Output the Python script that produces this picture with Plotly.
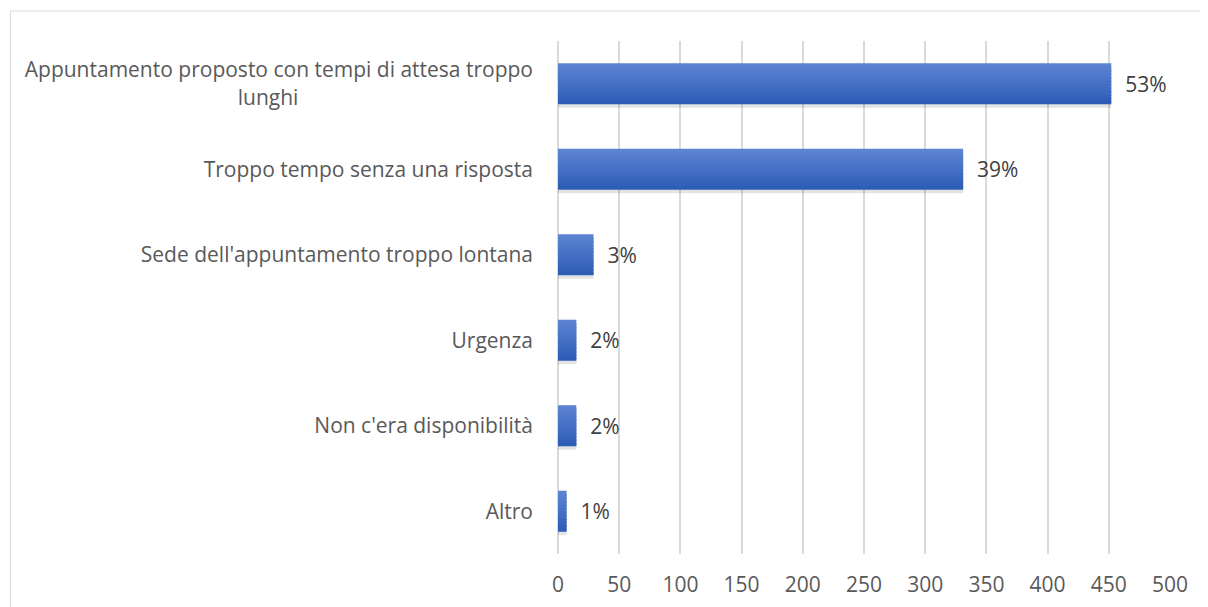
import plotly.graph_objects as go

categories = [
    "Appuntamento proposto con tempi di attesa troppo<br>lunghi" + "\u00a0" * 43,
    "Troppo tempo senza una risposta",
    "Sede dell'appuntamento troppo lontana",
    "Urgenza",
    "Non c'era disponibilità",
    "Altro",
]
values = [452, 331, 29, 15, 15, 7]
pct_labels = ["53%", "39%", "3%", "2%", "2%", "1%"]
x_ticks = [0, 50, 100, 150, 200, 250, 300, 350, 400, 450, 500]

W, H = 1208, 607
L, R, T, B = 549.5, 45.5, 33, 61
FONT = "Open Sans, Lato, sans-serif"
FS = 21
BAR_W = 0.48

fig = go.Figure()

# soft shadow under bars
fig.add_trace(go.Bar(
    y=categories, x=values, orientation="h",
    marker=dict(color="rgba(0,0,0,0.11)", line=dict(width=0)),
    width=BAR_W, offset=-BAR_W / 2 + 0.04, hoverinfo="skip",
))

# vertical gradient fill built from thin strips
top_rgb = (0x5C, 0x83, 0xD2)
bot_rgb = (0x2E, 0x5D, 0xB6)
N = 12
step = BAR_W / N
for i in range(N):
    f = i / (N - 1)
    c = tuple(round(a + (b - a) * f) for a, b in zip(top_rgb, bot_rgb))
    fig.add_trace(go.Bar(
        y=categories, x=values, orientation="h",
        marker=dict(color="rgb(%d,%d,%d)" % c, line=dict(width=0)),
        width=step * (1.6 if i < N - 1 else 1.0),
        offset=-BAR_W / 2 + i * step, hoverinfo="skip",
    ))

# labels
fig.add_trace(go.Bar(
    y=categories, x=values, orientation="h",
    marker=dict(color="rgba(0,0,0,0)", line=dict(width=0)),
    width=BAR_W,
    text=["\u00a0\u00a0" + p for p in pct_labels],
    textposition="outside",
    textfont=dict(family=FONT, size=FS, color="#404040"),
    cliponaxis=False,
))

fig.update_layout(
    width=W, height=H,
    margin=dict(l=L, r=R, t=T, b=B, autoexpand=False),
    paper_bgcolor="white", plot_bgcolor="white",
    showlegend=False, barmode="overlay",
    font=dict(family=FONT, size=FS, color="#595959"),
    xaxis=dict(
        range=[0, 500], tickvals=x_ticks, showgrid=True,
        gridcolor="#D9D9D9", gridwidth=1.5, zeroline=True,
        zerolinecolor="#D9D9D9", zerolinewidth=1.5,
        ticks="", ticklabelstandoff=16,
        tickfont=dict(family=FONT, size=FS, color="#595959"),
    ),
    yaxis=dict(
        autorange="reversed", showgrid=False, zeroline=False,
        ticks="", ticklabelstandoff=24,
        tickfont=dict(family=FONT, size=FS, color="#595959"),
    ),
    shapes=[dict(
        type="rect", xref="paper", yref="paper",
        x0=(1 - L) / (W - L - R), x1=(1230 - L) / (W - L - R),
        y0=(H - B - 630) / (H - T - B), y1=(H - B - 3) / (H - T - B),
        line=dict(color="#D9D9D9", width=1), fillcolor="rgba(0,0,0,0)",
        layer="below",
    )],
)

fig.write_html("out.html")
